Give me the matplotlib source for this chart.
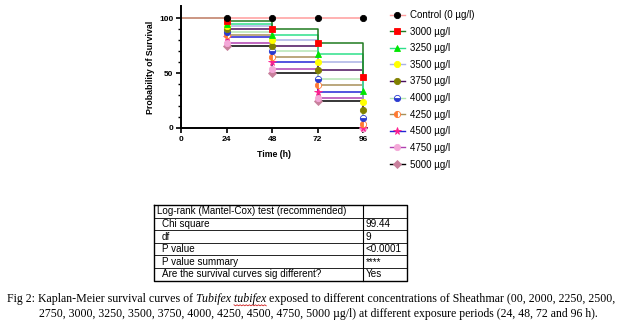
"""Kaplan-Meier survival curves with log-rank summary table and caption."""

import matplotlib

matplotlib.use("Agg")

import matplotlib.pyplot as plt
from matplotlib.lines import Line2D

# survival data (% alive) at each observation time
TIMES = [0, 24, 48, 72, 96]
LABELS = [
    "Control (0 µg/l)", "3000 µg/l", "3250 µg/l", "3500 µg/l", "3750 µg/l",
    "4000 µg/l", "4250 µg/l", "4500 µg/l", "4750 µg/l", "5000 µg/l",
]
SURV_CONTROL = [100, 100, 100, 100, 100]
SURV_3000 = [100, 97.5, 90, 77.5, 46]
SURV_3250 = [100, 95, 85, 67.5, 33.5]
SURV_3500 = [100, 92.5, 80, 60, 24]
SURV_3750 = [100, 90, 75, 52.5, 16]
SURV_4000 = [100, 87.5, 70, 45, 9]
SURV_4250 = [100, 85, 65, 39, 4]
SURV_4500 = [100, 82.5, 60, 32.5, 0]
SURV_4750 = [100, 77.5, 54, 27, 0]
SURV_5000 = [100, 75, 50, 25, 0]
SERIES = [SURV_CONTROL, SURV_3000, SURV_3250, SURV_3500, SURV_3750,
          SURV_4000, SURV_4250, SURV_4500, SURV_4750, SURV_5000]

TABLE_LABELS = [
    "Log-rank (Mantel-Cox) test (recommended)", "Chi square", "df",
    "P value", "P value summary", "Are the survival curves sig different?",
]
TABLE_VALUES = ["", "99.44", "9", "<0.0001", "****", "Yes"]

# (line colour, marker, marker face, fillstyle)
STYLES = [
    ("#ff9c9c", "o", "#000000", "full"),
    ("#1f7a1f", "s", "#ff0000", "full"),
    ("#2ee08a", "^", "#00e600", "full"),
    ("#aab2e6", "o", "#ffff00", "full"),
    ("#4a0f5c", "o", "#808000", "full"),
    ("#b4e6b4", "o", "#2a3ad0", "bottom"),
    ("#a89058", "o", "#ff7a33", "left"),
    ("#2424d6", "*", "#ff1f8f", "full"),
    ("#b040b0", "o", "#f4a8d8", "full"),
    ("#000000", "D", "#c8809c", "full"),
]

FONT = ["Liberation Sans", "DejaVu Sans"]
SERIF = ["Liberation Serif", "DejaVu Serif"]

W, H = 639, 326
fig = plt.figure(figsize=(W / 100, H / 100), dpi=100)

# plot axes placed in pixel coords
x0, x1, y0, y1 = 181, 367, 128, 6
ax = fig.add_axes([x0 / W, 1 - y0 / H, (x1 - x0) / W, (y0 - y1) / H])

for values, (lc, mk, mf, fs) in zip(SERIES[::-1], STYLES[::-1]):
    ax.step(TIMES, values, where="post", color=lc, linewidth=1.1, clip_on=False)
for values, (lc, mk, mf, fs) in zip(SERIES[::-1], STYLES[::-1]):
    ms = 5.5 if mk == "*" else (4 if mk == "D" else 4.5)
    ax.plot(TIMES[1:], values[1:], linestyle="none", marker=mk, markersize=ms,
            markerfacecolor=mf, markeredgecolor=mf, fillstyle=fs,
            markerfacecoloralt="white", markeredgewidth=0.6, clip_on=False,
            zorder=3)

ax.set_xlim(0, 98)
ax.set_ylim(0, 111)
ax.set_xticks([0, 24, 48, 72, 96])
ax.set_yticks([0, 50, 100])
ax.set_yticks(range(10, 110, 10), minor=True)
for side in ("top", "right"):
    ax.spines[side].set_visible(False)
for side in ("left", "bottom"):
    ax.spines[side].set_linewidth(1.4)
ax.tick_params(which="major", length=3.5, width=1.2, labelsize=6, pad=2)
ax.tick_params(which="minor", length=2, width=1.0)
for lbl in ax.get_xticklabels() + ax.get_yticklabels():
    lbl.set_fontweight("bold")
    lbl.set_family(FONT)
ax.set_xlabel("Time (h)", fontsize=6.3, fontweight="bold", family=FONT, labelpad=5)
ax.set_ylabel("Probability of Survival", fontsize=6.3, fontweight="bold",
              family=FONT, labelpad=3)

handles = [
    Line2D([], [], color=lc, linewidth=1.0, marker=mk,
           markersize=5.5 if mk == "*" else 4.5, markerfacecolor=mf,
           markeredgecolor=mf, fillstyle=fs, markerfacecoloralt="white",
           markeredgewidth=0.6)
    for lc, mk, mf, fs in STYLES
]
fig.legend(handles, LABELS, loc="upper left", bbox_to_anchor=(390 / W, 1 - 10 / H),
           frameon=False, prop={"family": FONT, "size": 7.0},
           handlelength=1.5, handletextpad=0.6, labelspacing=0.68,
           borderaxespad=0, borderpad=0)

# overlay axes in pixel coordinates for table and caption
ov = fig.add_axes([0, 0, 1, 1])
ov.set_xlim(0, W)
ov.set_ylim(H, 0)
ov.axis("off")

tl, tr, tdiv = 154, 407, 363
ttop, row_h = 205, 12.6
nrows = len(TABLE_LABELS)
tbot = ttop + nrows * row_h
ov.plot([tl, tr, tr, tl, tl], [ttop, ttop, tbot, tbot, ttop], color="black", lw=1.0)
ov.plot([tdiv, tdiv], [ttop, tbot], color="black", lw=0.8)
for i in range(1, nrows):
    yy = ttop + i * row_h
    ov.plot([tl, tr], [yy, yy], color="black", lw=0.6)
for i, (lab, val) in enumerate(zip(TABLE_LABELS, TABLE_VALUES)):
    yc = ttop + (i + 0.5) * row_h
    ov.text(tl + (3 if i == 0 else 8), yc, lab, fontsize=7.1, family=FONT,
            va="center", ha="left")
    ov.text(tdiv + 3, yc, val, fontsize=7.1, family=FONT, va="center", ha="left")

# caption with italic species name
fig.canvas.draw()
renderer = fig.canvas.get_renderer()
cap_size = 8.6
parts = [
    ("Fig 2: Kaplan-Meier survival curves of ", "normal"),
    ("Tubifex tubifex", "italic"),
    (" exposed to different concentrations of Sheathmar (00, 2000, 2250, 2500,", "normal"),
]
xpos = 7
for txt, style in parts:
    t = ov.text(xpos, 299, txt, fontsize=cap_size, family=SERIF, style=style,
                va="center", ha="left")
    bb = t.get_window_extent(renderer)
    if style == "italic":
        # red wavy spell-check underline under "tubifex"
        sub = ov.text(xpos, 299, "Tubifex ", fontsize=cap_size, family=SERIF,
                      style=style, alpha=0)
        sx = xpos + sub.get_window_extent(renderer).width
        ex = xpos + bb.width
        n = int((ex - sx) / 1.5)
        xs = [sx + k * (ex - sx) / n for k in range(n + 1)]
        ys = [305 + (0.8 if k % 2 else -0.2) for k in range(n + 1)]
        ov.plot(xs, ys, color="#d02020", lw=0.6)
    xpos += bb.width
ov.text(39, 314, "2750, 3000, 3250, 3500, 3750, 4000, 4250, 4500, 4750, 5000 µg/l) "
        "at different exposure periods (24, 48, 72 and 96 h).",
        fontsize=cap_size - 0.1, family=SERIF, va="center", ha="left")

fig.savefig("out.png", dpi=100)
